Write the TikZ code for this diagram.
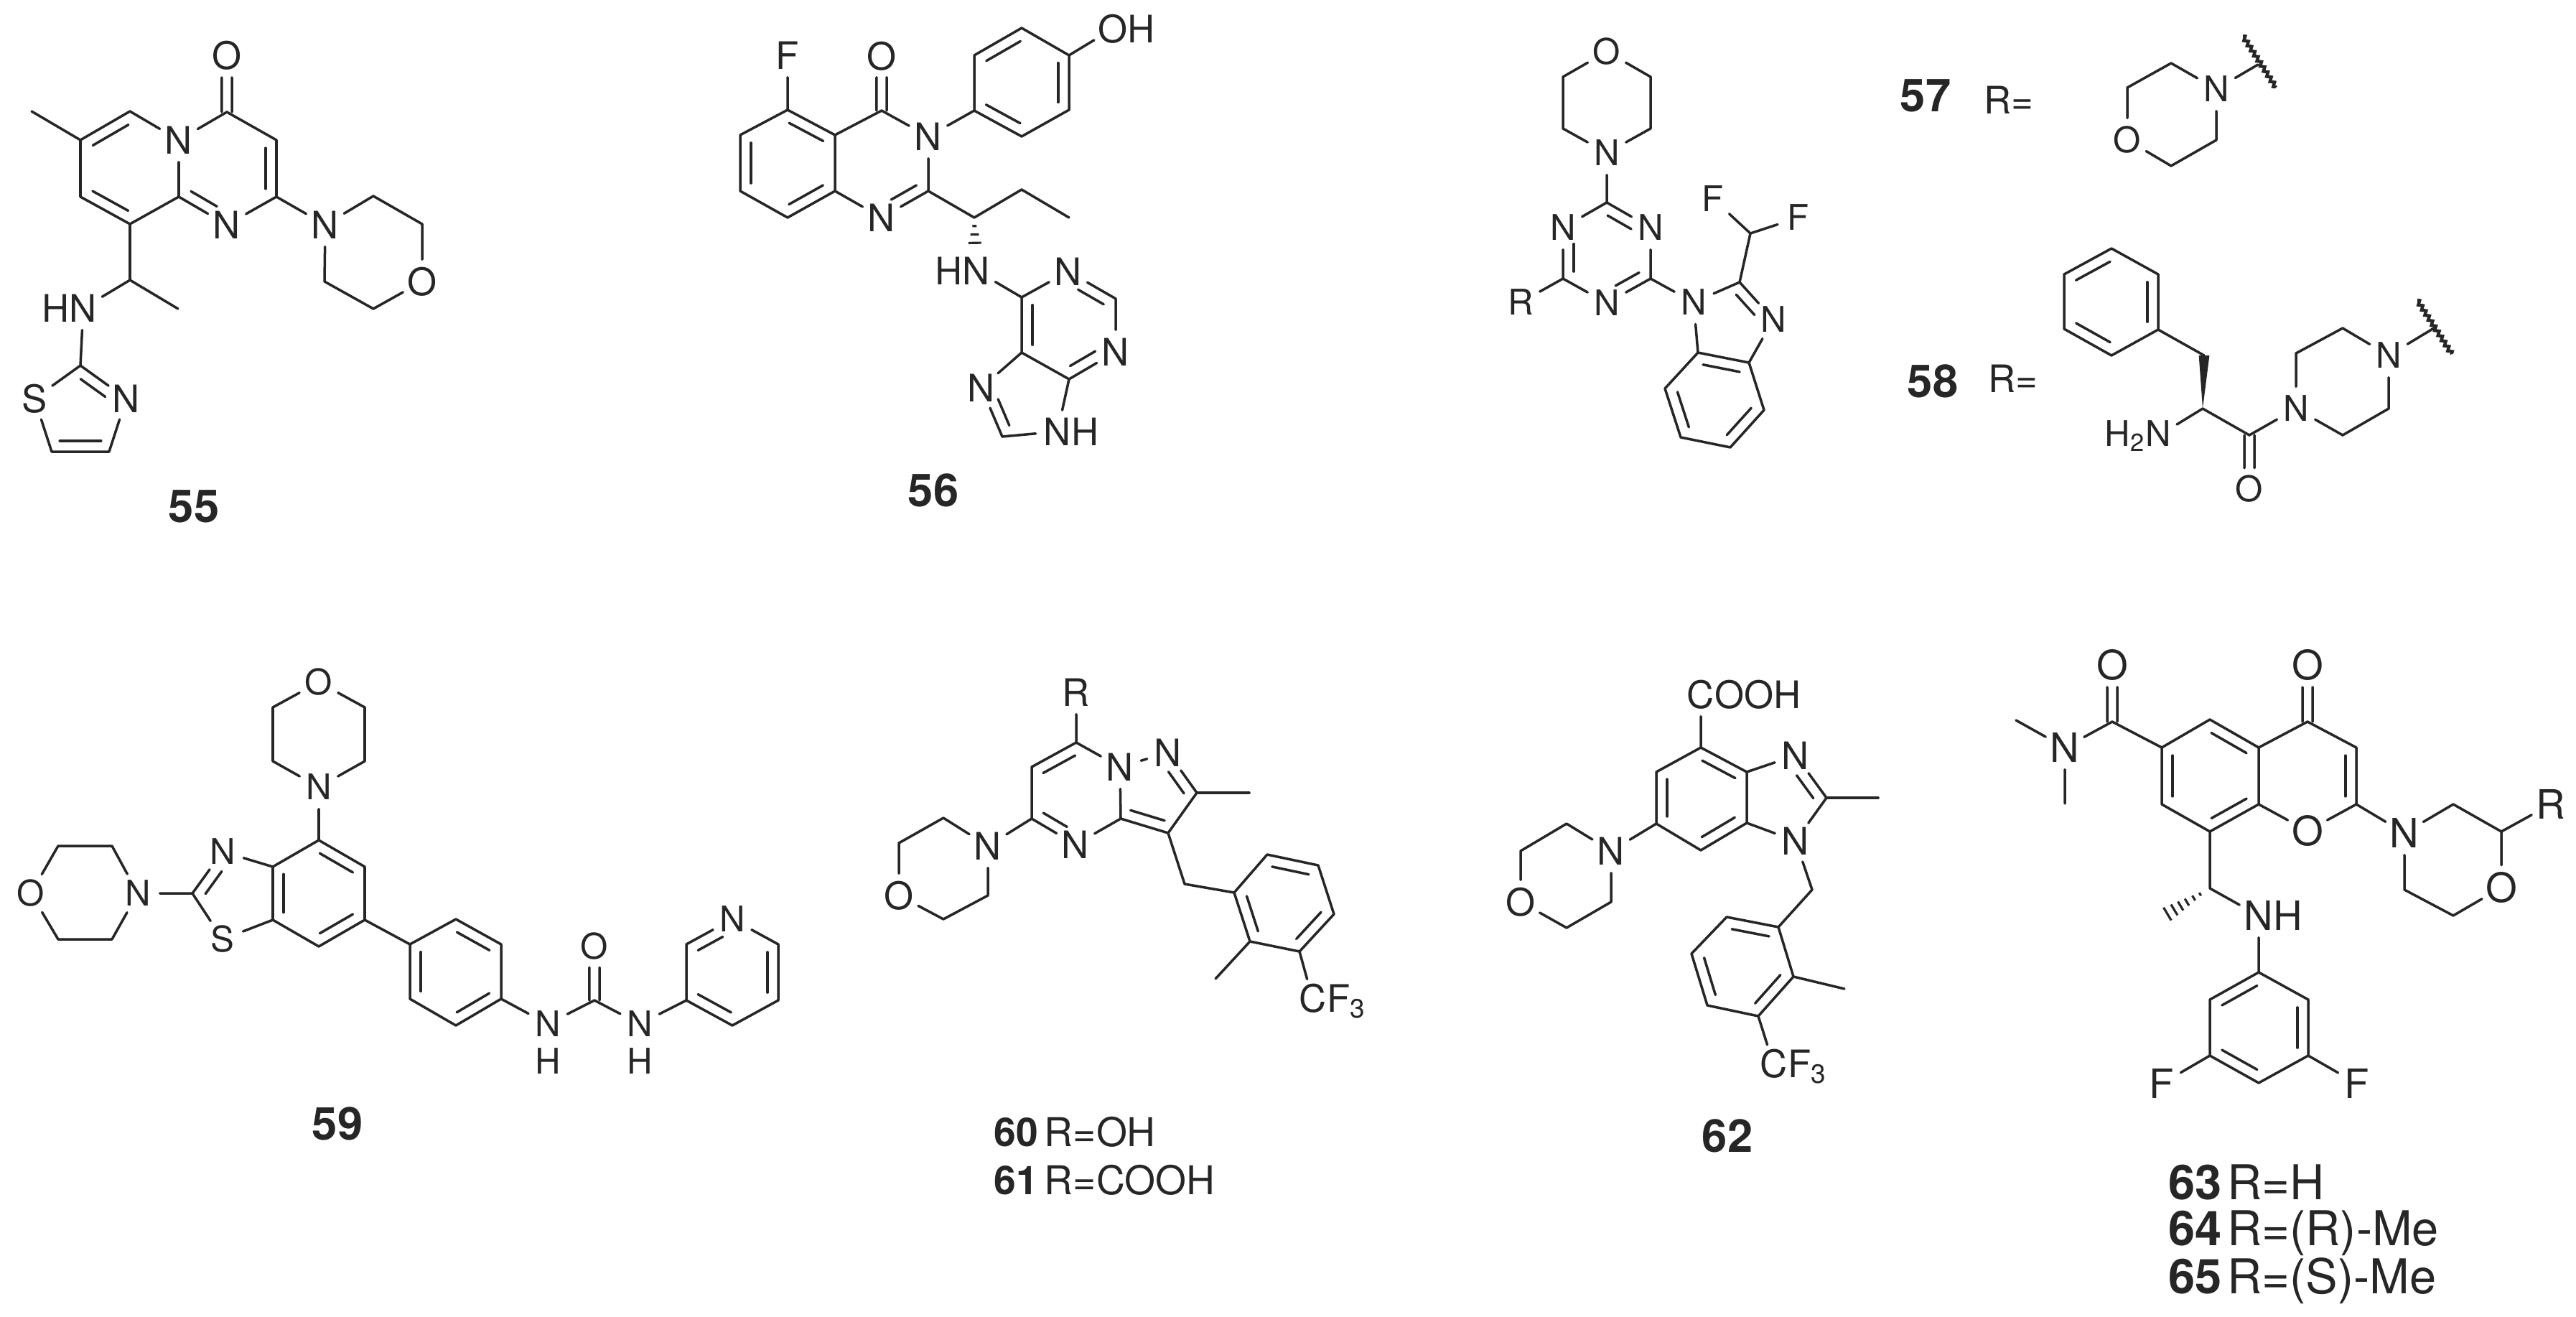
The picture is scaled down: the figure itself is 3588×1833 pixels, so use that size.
\documentclass[tikz,border=0pt]{standalone}
\usepackage{fontspec}
\setmainfont{TeX Gyre Heros}
\usetikzlibrary{calc,decorations.pathmorphing}
\definecolor{ink}{HTML}{262626}
\tikzset{
    bond/.style={color=ink, line width=1pt, line cap=round, line join=round},
    hash/.style={color=ink, line width=0.9pt},
    squiggle/.style={color=ink, line width=1.25pt, decorate, decoration={zigzag, amplitude=0.7pt, segment length=2.4pt}},
    atom/.style={circle, inner sep=0pt, minimum size=17pt, text=ink, font=\fontsize{15}{15}\selectfont},
    atomS/.style={atom, font=\fontsize{14}{14}\selectfont},
    atomL/.style={atom, font=\fontsize{16}{16}\selectfont},
    cpd/.style={font=\fontsize{18}{18}\selectfont\bfseries, text=ink},
    rgroup/.style={font=\fontsize{15}{15}\selectfont, text=ink},
    rowM/.style={anchor=base west, inner sep=0pt, font=\fontsize{15.7}{15.7}\selectfont, text=ink},
    rowL/.style={anchor=base west, inner sep=0pt, font=\fontsize{19}{19}\selectfont, text=ink},
}
% inner line of a ring double bond, #4 = side
\newcommand{\dbl}[4][0.86]{\draw[bond] ($(#2)!0.14!(#3)!4.3pt!#4:(#3)$) -- ($(#2)!#1!(#3)!4.3pt!#4:(#3)$);}
\newcommand{\carbonyl}[2]{
    \draw[bond] ($(#1)!2pt!90:(#2)$) -- ($(#1)!0.61!(#2)!2pt!90:(#2)$);
    \draw[bond] ($(#1)!2pt!-90:(#2)$) -- ($(#1)!0.61!(#2)!2pt!-90:(#2)$);
}
\newcommand{\wedgebond}[2]{\fill[ink] (#1) -- ($(#2)!2.1pt!90:(#1)$) -- ($(#2)!2.1pt!-90:(#1)$) -- cycle;}
\newcommand{\hashbond}[3]{\foreach \f in {#3}{\draw[hash] ($(#1)!\f!(#2)!\f*3.4pt!90:(#2)$) -- ($(#1)!\f!(#2)!\f*3.4pt!-90:(#2)$);}}
\begin{document}
\begin{tikzpicture}[x=0.01cm, y=-0.01cm]
    \useasboundingbox (0,0) rectangle (3588,1833);

    % 55
    \foreach \p/\x/\y in {a1/44/155,a2/112/195,a3/181/155,a4/316/156,a5/385/195,a6/385/274,a7/249/274,a8/181/312,a9/112/274,a10/181/390,a11/248/430,a12/112/509,a13/72/629,a14/152/629,a15/520/273,a16/588/312,a17/520/430,a18/452/392}
        \coordinate (\p) at (\x,\y);
    \node[atom] (an1) at (249,195) {N};
    \node[atom] (ao1) at (316,77) {O};
    \node[atom] (an2) at (316,313) {N};
    \node[atom] (an3) at (453,313) {N};
    \node[atom] (ao2) at (588,392) {O};
    \node[atom] (an4) at (116,429) {\llap{H}N};
    \node[atom] (as) at (48,555) {S};
    \node[atom] (an5) at (176,555) {N};
    \draw[bond] (a1)--(a2)--(a3)--(an1)--(a4)--(a5)--(a6)--(an2)--(a7)--(an1);
    \draw[bond] (a2)--(a9)--(a8)--(a7);
    \draw[bond] (a6)--(an3)--(a15)--(a16)--(ao2)--(a17)--(a18)--(an3);
    \draw[bond] (a8)--(a10)--(a11);
    \draw[bond] (a10)--(an4)--(a12)--(as)--(a13)--(a14)--(an5)--(a12);
    \carbonyl{a4}{ao1}
    \dbl{a2}{a3}{-90} \dbl{a8}{a9}{-90} \dbl{a5}{a6}{-90}
    \dbl[0.68]{a7}{an2}{90} \dbl[0.68]{a12}{an5}{-90} \dbl{a14}{a13}{-90}
    \node[cpd] (l55) at (270,705) {55};

    % 56
    \foreach \p/\x/\y in {b1/1097/153,b2/1163/188,b3/1031/188,b4/1031/266,b5/1097/303,b6/1163/266,b7/1228/154,b8/1293/266,b9/1357/154,b10/1357/77,b11/1423/39,b12/1489/77,b13/1489/153,b14/1423/190,b15/1357/303,b16/1423/264,b17/1489/303,b18/1423/414,b19/1554/416,b20/1489/528,b21/1423/491,b22/1396/608,b23/1358/350}
        \coordinate (\p) at (\x,\y);
    \node[atom] (bf) at (1097,77) {F};
    \node[atom] (bo1) at (1228,78) {O};
    \node[atom] (bn1) at (1293,190) {N};
    \node[atom] (bn2) at (1228,303) {N};
    \node[atom] (bo2) at (1550,40) {O\rlap{H}};
    \node[atom] (bn3) at (1360,377) {\llap{H}N};
    \node[atom] (bn4) at (1488,378) {N};
    \node[atom] (bn5) at (1554,490) {N};
    \node[atom] (bn6) at (1367,540) {N};
    \node[atom] (bn7) at (1473,601) {N\rlap{H}};
    \draw[bond] (bf)--(b1)--(b2)--(b6)--(b5)--(b4)--(b3)--(b1);
    \draw[bond] (b2)--(b7)--(bn1)--(b8)--(bn2)--(b6);
    \draw[bond] (bn1)--(b9)--(b10)--(b11)--(b12)--(b13)--(b14)--(b9);
    \draw[bond] (b12)--(bo2);
    \draw[bond] (b8)--(b15)--(b16)--(b17);
    \draw[bond] (bn3)--(b18)--(bn4)--(b19)--(bn5)--(b20)--(b21)--(b18);
    \draw[bond] (b21)--(bn6)--(b22)--(bn7)--(b20);
    \carbonyl{b7}{bo1}
    \hashbond{b15}{b23}{0.25,0.5,0.75,1}
    \dbl{b1}{b2}{-90} \dbl{b6}{b5}{-90} \dbl{b4}{b3}{-90}
    \dbl[0.68]{b8}{bn2}{-90}
    \dbl{b10}{b11}{-90} \dbl{b12}{b13}{-90} \dbl{b14}{b9}{-90}
    \dbl{b21}{b18}{-90} \dbl[0.68]{b19}{bn4}{90} \dbl[0.68]{b20}{bn5}{90} \dbl[0.68]{b22}{bn6}{-90}
    \node[cpd] (l56) at (1300,683) {56};

    % triazine core
    \foreach \p/\x/\y in {c1/2299/107,c2/2299/179,c3/2177/179,c4/2177/107,c5/2238/282,c6/2299/388,c7/2177/388,c8/2423/393,c9/2438/325,c10/2436/505,c11/2365/491,c12/2319/541,c13/2341/609,c14/2410/623,c15/2457/571}
        \coordinate (\p) at (\x,\y);
    \node[atomS] (co) at (2238,72) {O};
    \node[atomS] (cn1) at (2238,213) {N};
    \node[atomS] (cn2) at (2299,317) {N};
    \node[atomS] (cn3) at (2238,422) {N};
    \node[atomS] (cn4) at (2177,317) {N};
    \node[atomS] (cr) at (2118,421) {R};
    \node[atomS] (cn5) at (2359,421) {N};
    \node[atomS] (cn6) at (2470,445) {N};
    \node[atomS] (cf1) at (2386,277) {F};
    \node[atomS] (cf2) at (2505,303) {F};
    \draw[bond] (co)--(c1)--(c2)--(cn1)--(c3)--(c4)--(co);
    \draw[bond] (cn1)--(c5)--(cn2)--(c6)--(cn3)--(c7)--(cn4)--(c5);
    \draw[bond] (cr)--(c7);
    \draw[bond] (c6)--(cn5)--(c8)--(cn6)--(c10)--(c11)--(cn5);
    \draw[bond] (c8)--(c9)--(cf1);
    \draw[bond] (c9)--(cf2);
    \draw[bond] (c11)--(c12)--(c13)--(c14)--(c15)--(c10);
    \dbl[0.68]{c5}{cn2}{-90} \dbl[0.68]{c6}{cn3}{-90} \dbl[0.68]{c7}{cn4}{-90}
    \dbl[0.68]{c8}{cn6}{-90} \dbl{c11}{c10}{-90} \dbl{c13}{c12}{-90} \dbl{c15}{c14}{-90}

    % 57
    \node[cpd] (l57) at (2682,133) {57};
    \node[rgroup] (r57) at (2798,139) {R=};
    \foreach \p/\x/\y in {d1/3024/88,d2/2963/122,d3/3024/231,d4/3087/195,d5/3145/90,d6/3124/50,d7/3170/122}
        \coordinate (\p) at (\x,\y);
    \node[atomS] (dn) at (3087,124) {N};
    \node[atomS] (do) at (2963,195) {O};
    \draw[bond] (dn)--(d1)--(d2)--(do)--(d3)--(d4)--(dn)--(d5);
    \draw[squiggle] (d6)--(d7);

    % 58
    \node[cpd] (l58) at (2692,531) {58};
    \node[rgroup] (r58) at (2804,527) {R=};
    \foreach \p/\x/\y in {e1/2941/346,e2/3006/382,e3/3006/459,e4/2941/495,e5/2875/458,e6/2875/382,e7/3070/495,e8/3068/569,e9/3133/606,e10/3198/492,e11/3263/457,e12/3327/569,e13/3263/606,e14/3390/457,e15/3367/418,e16/3415/493}
        \coordinate (\p) at (\x,\y);
    \node[atomS] (en1) at (3006,607) {\llap{H\textsubscript{2}}N};
    \node[atomS] (eo) at (3133,681) {O};
    \node[atomS] (en2) at (3198,569) {N};
    \node[atomS] (en3) at (3327,495) {N};
    \draw[bond] (e1)--(e2)--(e3)--(e4)--(e5)--(e6)--(e1);
    \draw[bond] (e3)--(e7);
    \wedgebond{e8}{e7}
    \draw[bond] (en1)--(e8)--(e9)--(en2)--(e10)--(e11)--(en3)--(e12)--(e13)--(en2);
    \draw[bond] (en3)--(e14);
    \draw[squiggle] (e15)--(e16);
    \carbonyl{e9}{eo}
    \dbl{e2}{e3}{-90} \dbl{e4}{e5}{-90} \dbl{e6}{e1}{-90}

    % 59
    \foreach \p/\x/\y in {f1/508/985,f2/508/1060,f3/380/1060,f4/380/985,f5/444/1170,f6/508/1207,f7/508/1281,f8/444/1318,f9/380/1281,f10/380/1207,f11/268/1244,f12/156/1178,f13/81/1178,f14/81/1308,f15/156/1308,f16/571/1315,f17/635/1280,f18/698/1315,f19/698/1391,f20/635/1428,f21/571/1391,f22/828/1393,f23/956/1393,f24/956/1315,f25/1084/1315,f26/1084/1393,f27/1020/1428}
        \coordinate (\p) at (\x,\y);
    \node[atomS] (fo1) at (444,950) {O};
    \node[atomS] (fn1) at (444,1096) {N};
    \node[atomS] (fn2) at (310,1186) {N};
    \node[atomS] (fs) at (310,1308) {S};
    \node[atomS] (fn3) at (192,1244) {N};
    \node[atomS] (fo2) at (43,1244) {O};
    \node[atomS] (fn4) at (763,1426) {N};
    \node[atomS] (fh1) at (763,1478) {H};
    \node[atomS] (fo3) at (828,1318) {O};
    \node[atomS] (fn5) at (891,1426) {N};
    \node[atomS] (fh2) at (891,1478) {H};
    \node[atomS] (fn6) at (1020,1280) {N};
    \draw[bond] (fo1)--(f1)--(f2)--(fn1)--(f3)--(f4)--(fo1);
    \draw[bond] (fn1)--(f5)--(f6)--(f7)--(f8)--(f9)--(f10)--(f5);
    \draw[bond] (f10)--(fn2)--(f11)--(fs)--(f9);
    \draw[bond] (f11)--(fn3)--(f12)--(f13)--(fo2)--(f14)--(f15)--(fn3);
    \draw[bond] (f7)--(f16)--(f17)--(f18)--(f19)--(f20)--(f21)--(f16);
    \draw[bond] (f19)--(fn4)--(f22)--(fn5)--(f23)--(f24)--(fn6)--(f25)--(f26)--(f27)--(f23);
    \carbonyl{f22}{fo3}
    \dbl{f5}{f6}{-90} \dbl{f7}{f8}{-90} \dbl{f9}{f10}{-90} \dbl[0.68]{f11}{fn2}{-90}
    \dbl{f17}{f18}{-90} \dbl{f19}{f20}{-90} \dbl{f21}{f16}{-90}
    \dbl[0.68]{f24}{fn6}{-90} \dbl{f25}{f26}{-90} \dbl{f27}{f23}{-90}
    \node[cpd] (l59) at (470,1565) {59};

    % 60, 61
    \foreach \p/\x/\y in {g1/1499/1034,g2/1437/1068,g3/1437/1140,g4/1561/1140,g5/1667/1104,g6/1740/1104,g7/1627/1160,g8/1650/1231,g9/1719/1243,g10/1765/1190,g11/1836/1205,g12/1858/1273,g13/1810/1325,g14/1741/1311,g15/1693/1363,g16/1314/1139,g17/1252/1174,g18/1314/1280,g19/1376/1247}
        \coordinate (\p) at (\x,\y);
    \node[atom] (gr) at (1499,964) {R};
    \node[atom] (gn1) at (1498,1176) {N};
    \node[atom] (gn2) at (1560,1068) {N};
    \node[atom] (gn3) at (1627,1048) {N};
    \node[atom] (gn4) at (1376,1178) {N};
    \node[atom] (go) at (1252,1247) {O};
    \node[atom] (gcf) at (1829,1394) {C\rlap{F\textsubscript{3}}};
    \draw[bond] (gr)--(g1)--(g2)--(g3)--(gn1)--(g4)--(gn2)--(g1);
    \draw[bond] (gn2)--(gn3)--(g5)--(g7)--(g4);
    \draw[bond] (g5)--(g6);
    \draw[bond] (g7)--(g8)--(g9)--(g10)--(g11)--(g12)--(g13)--(g14)--(g9);
    \draw[bond] (g14)--(g15);
    \draw[bond] (g13)--(gcf);
    \draw[bond] (g3)--(gn4)--(g16)--(g17)--(go)--(g18)--(g19)--(gn4);
    \dbl{g2}{g1}{-90} \dbl[0.68]{g3}{gn1}{90} \dbl{g7}{g4}{-90} \dbl[0.68]{g5}{gn3}{90}
    \dbl{g14}{g9}{-90} \dbl{g10}{g11}{-90} \dbl{g12}{g13}{-90}
    \node[rowM] (l60) at (1384,1596) {\textbf{60}\hspace{2.5pt}R=OH};
    \node[rowM] (l61) at (1384,1663) {\textbf{61}\hspace{2.5pt}R=COOH};

    % 62
    \foreach \p/\x/\y in {h1/2369/1041,h2/2433/1075,h3/2433/1146,h4/2369/1184,h5/2307/1147,h6/2307/1075,h7/2544/1111,h8/2616/1111,h9/2524/1239,h10/2477/1291,h11/2498/1360,h12/2569/1377,h13/2449/1415,h14/2378/1400,h15/2356/1328,h16/2405/1277,h17/2182/1147,h18/2118/1185,h19/2182/1292,h20/2244/1256}
        \coordinate (\p) at (\x,\y);
    \node[atom] (hc) at (2369,967) {C\rlap{OOH}};
    \node[atom] (hn1) at (2501,1052) {N};
    \node[atom] (hn2) at (2501,1171) {N};
    \node[atom] (hn3) at (2244,1185) {N};
    \node[atom] (ho) at (2118,1256) {O};
    \node[atom] (hcf) at (2471,1485) {C\rlap{F\textsubscript{3}}};
    \draw[bond] (hc)--(h1)--(h2)--(h3)--(h4)--(h5)--(h6)--(h1);
    \draw[bond] (h2)--(hn1)--(h7)--(hn2)--(h3);
    \draw[bond] (h7)--(h8);
    \draw[bond] (hn2)--(h9)--(h10)--(h11)--(h13)--(h14)--(h15)--(h16)--(h10);
    \draw[bond] (h11)--(h12);
    \draw[bond] (h13)--(hcf);
    \draw[bond] (h5)--(hn3)--(h17)--(h18)--(ho)--(h19)--(h20)--(hn3);
    \dbl{h1}{h2}{-90} \dbl{h3}{h4}{-90} \dbl{h5}{h6}{-90} \dbl[0.68]{h7}{hn1}{90}
    \dbl{h11}{h13}{-90} \dbl{h14}{h15}{-90} \dbl{h16}{h10}{-90}
    \node[cpd] (l62) at (2406,1582) {62};

    % 63, 64, 65
    \foreach \p/\x/\y in {k1/2942/1005,k2/2808/1003,k3/2876/1119,k4/3011/1041,k5/3078/1002,k6/3146/1041,k7/3146/1120,k8/3078/1158,k9/3011/1120,k10/3214/1005,k11/3282/1041,k12/3282/1120,k13/3417/1120,k14/3484/1158,k15/3417/1275,k16/3349/1239,k17/3078/1237,k18/3010/1278,k19/3146/1354,k20/3078/1392,k21/3078/1470,k22/3146/1508,k23/3215/1470,k24/3215/1392}
        \coordinate (\p) at (\x,\y);
    \node[atomL] (ko1) at (2942,926) {O};
    \node[atomL] (kn1) at (2876,1041) {N};
    \node[atomL] (ko2) at (3214,926) {O};
    \node[atomL] (ko3) at (3214,1157) {O};
    \node[atomL] (kn2) at (3349,1160) {N};
    \node[atomL] (kr) at (3553,1120) {R};
    \node[atomL] (ko4) at (3484,1236) {O};
    \node[atomL] (kn3) at (3146,1275) {N\rlap{H}};
    \node[atomL] (kf1) at (3011,1509) {F};
    \node[atomL] (kf2) at (3283,1509) {F};
    \draw[bond] (k2)--(kn1)--(k3);
    \draw[bond] (kn1)--(k1)--(k4)--(k5)--(k6)--(k7)--(k8)--(k9)--(k4);
    \draw[bond] (k6)--(k10)--(k11)--(k12)--(ko3)--(k7);
    \draw[bond] (k12)--(kn2)--(k13)--(k14)--(ko4)--(k15)--(k16)--(kn2);
    \draw[bond] (k14)--(kr);
    \draw[bond] (k8)--(k17)--(kn3)--(k19)--(k20)--(k21)--(k22)--(k23)--(k24)--(k19);
    \draw[bond] (kf1)--(k21);
    \draw[bond] (k23)--(kf2);
    \carbonyl{k1}{ko1}
    \carbonyl{k10}{ko2}
    \hashbond{k17}{k18}{0.2,0.33,0.47,0.6,0.73,0.87,1}
    \dbl{k5}{k6}{-90} \dbl{k7}{k8}{-90} \dbl{k9}{k4}{-90} \dbl{k11}{k12}{-90}
    \dbl{k20}{k19}{-90} \dbl{k22}{k21}{-90} \dbl{k24}{k23}{-90}
    \node[rowL] (l63) at (3020,1670) {\textbf{63}\hspace{2pt}R=H};
    \node[rowL] (l64) at (3020,1734) {\textbf{64}\hspace{2pt}R=(R)-Me};
    \node[rowL] (l65) at (3020,1801) {\textbf{65}\hspace{2pt}R=(S)-Me};
\end{tikzpicture}
\end{document}
